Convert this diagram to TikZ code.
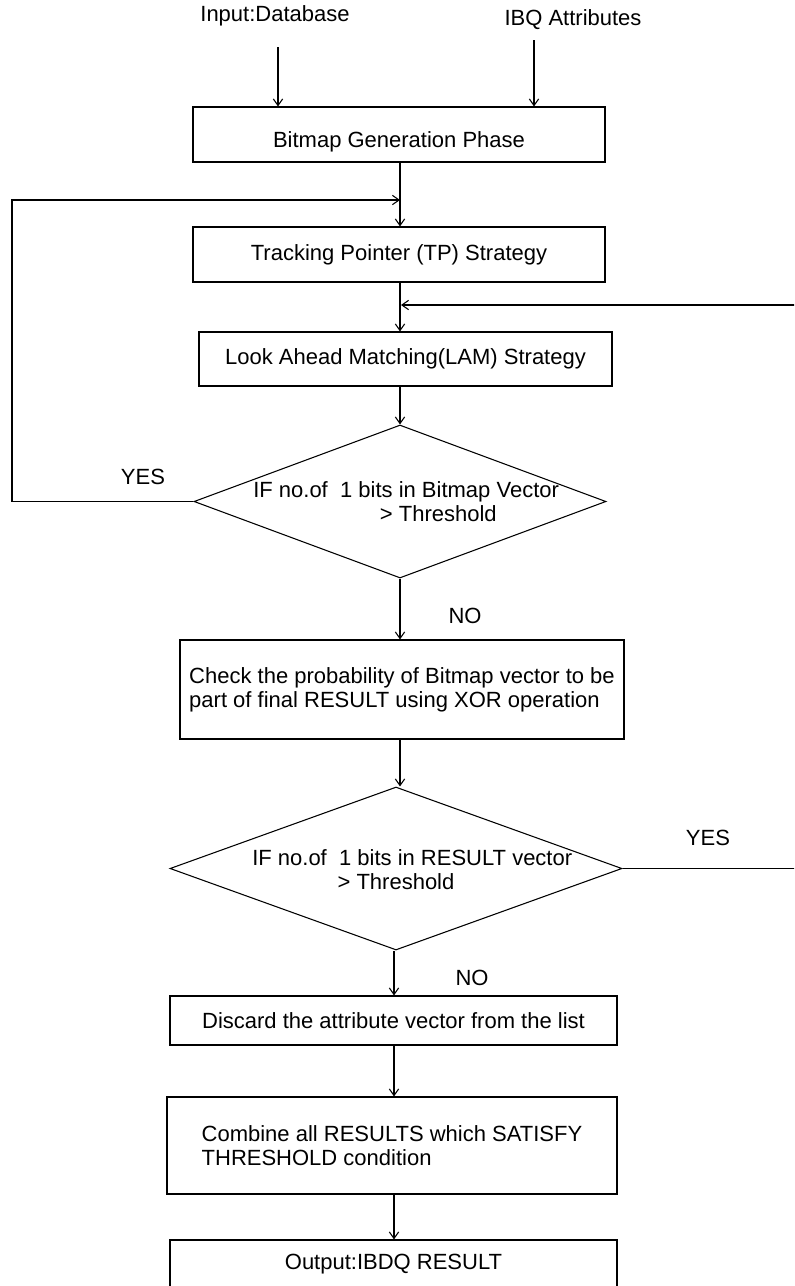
\documentclass[tikz,border=0pt]{standalone}
\usepackage{fontspec}
\setmainfont{Liberation Sans}
\usetikzlibrary{shapes.geometric,arrows.meta}

\tikzset{
  box/.style={draw,rectangle,line width=0.8pt,align=left,inner sep=0pt},
  decision/.style={draw,diamond,line width=0.8pt,inner sep=0pt},
  flow/.style={line width=0.8pt,-{Straight Barb[length=5pt,width=7pt]}}
}

\begin{document}
\begin{tikzpicture}[x=0.75pt,y=-0.75pt,font=\fontsize{16.5}{18}\selectfont]
\clip (0,0) rectangle (794,1286);
\fill[white] (0,0) rectangle (794,1286);
    % Inputs
    \node (inDB) at (275,16) {Input:Database};
    \node (inIBQ) at (573,20) {IBQ Attributes};
    \coordinate (sDB) at (278,47);
    \coordinate (sIBQ) at (534,40);

    % Boxes
    \node[box,minimum width=309pt,minimum height=41.25pt] (bgp) at (399,134.5) {\raisebox{-5.6pt}[\height][\depth]{Bitmap Generation Phase}};
    \node[box,minimum width=309pt,minimum height=41.25pt] (tp) at (399,254.5) {Tracking Pointer (TP) Strategy};
    \node[box,minimum width=309.75pt,minimum height=40.5pt] (lam) at (405.5,359) {Look Ahead Matching(LAM) Strategy};
    \node[decision,minimum width=309pt,minimum height=114.75pt] (d1) at (400,501.5) {};
    \node[anchor=west,inner sep=0pt,align=left] (d1txt) at (253,501.5) {IF no.of\ \ 1 bits in Bitmap Vector\\\hspace*{95pt}> Threshold};
    \node[box,minimum width=333pt,minimum height=74.25pt] (chk) at (402,689.5) {Check the probability of Bitmap vector to be\\part of final RESULT using XOR operation};
    \node[decision,minimum width=339pt,minimum height=122.25pt] (d2) at (396,868.5) {};
    \node[anchor=west,inner sep=0pt,align=left] (d2txt) at (252,869.5) {IF no.of\ \ 1 bits in RESULT vector\\\hspace*{64pt}> Threshold};
    \node[box,minimum width=335.25pt,minimum height=36.75pt] (disc) at (393.5,1020.5) {Discard the attribute vector from the list};
    \node[box,minimum width=337.5pt,minimum height=72.75pt] (comb) at (392,1145.5) {Combine all RESULTS which SATISFY\\THRESHOLD condition};
    \node[box,minimum width=335.25pt,minimum height=36.75pt] (out) at (393.5,1264.5) {Output:IBDQ RESULT};

    % Labels
    \node (yes1) at (143,477) {YES};
    \node (no1) at (465,616) {NO};
    \node (yes2) at (708,838) {YES};
    \node (no2) at (472,978) {NO};

    % Arrows
    \coordinate (j1) at (400,200);
    \coordinate (j2) at (401,305);
    \coordinate (j3) at (394,0);
    \draw[flow] (sDB) -- (sDB |- bgp.north);
    \draw[flow] (sIBQ) -- (sIBQ |- bgp.north);
    \draw[flow] (bgp.south -| j1) -- (tp.north -| j1);
    \draw[flow] (tp.south -| j1) -- (lam.north -| j1);
    \draw[flow] (lam.south -| d1.north) -- (d1.north);
    \draw[flow] (d1.south) -- (d1.south |- chk.north);
    \draw[flow] (chk.south -| j1) -- (d2.north -| j1);
    \draw[flow] (d2.south -| j3) -- (disc.north -| j3);
    \draw[flow] (disc.south -| j3) -- (comb.north -| j3);
    \draw[flow] (comb.south -| j3) -- (out.north -| j3);

    % Loops
    \coordinate (lp) at (12,501.5);
    \coordinate (rp) at (800,868.5);
    \draw[flow] (d1.west) -- (lp) |- (j1);
    \draw[flow] (d2.east) -- (rp) |- (j2);
\end{tikzpicture}
\end{document}
